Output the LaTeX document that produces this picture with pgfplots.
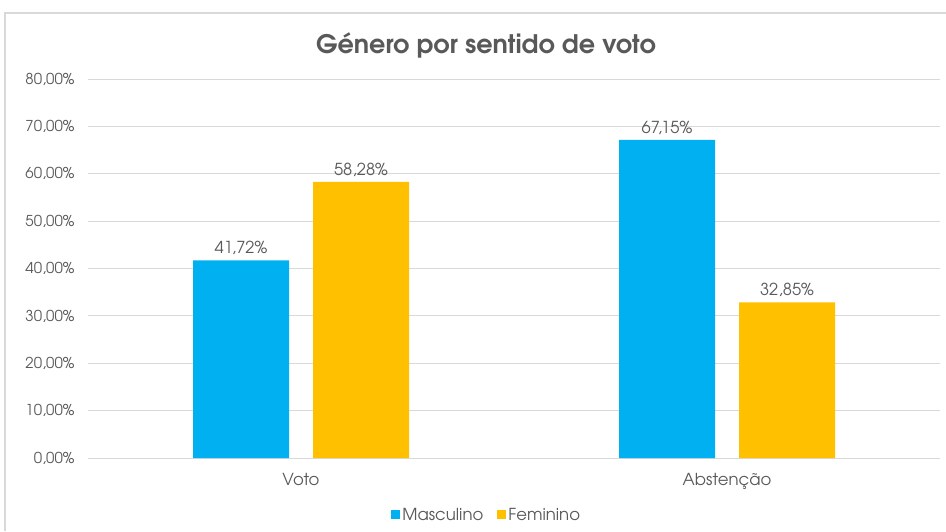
\documentclass[border=0pt]{standalone}
\usepackage{pgfplots}
\pgfplotsset{compat=1.18}
\usepackage{fontspec}
\setmainfont{TeX Gyre Adventor}
\definecolor{txt}{RGB}{89,89,89}
\definecolor{gridc}{RGB}{217,217,217}
\definecolor{masc}{RGB}{0,176,240}
\definecolor{fem}{RGB}{255,192,0}
\begin{document}
\begin{tikzpicture}[x=1pt,y=1pt]
\path[use as bounding box] (0,0) rectangle (946,531);
\draw[gridc,line width=1.2pt] (5,0) -- (5,518) -- (946,518);
\node[txt,font=\fontsize{25.5}{30}\selectfont\bfseries] at (486,486) {Género por sentido de voto};
\begin{axis}[
  at={(88pt,73pt)}, anchor=south west,
  scale only axis, width=852pt, height=379pt,
  xmin=-0.5, xmax=1.5, ymin=0, ymax=80,
  xtick={0,1}, xticklabels={Voto,Abstenção},
  ytick={0,10,...,80},
  yticklabel={\pgfmathprintnumber[fixed,fixed zerofill,precision=2,use comma]{\tick}\%},
  /pgf/number format/assume math mode=true,
  xmajorgrids=false, ymajorgrids=true, grid style={color=gridc,line width=0.9pt},
  axis line style={draw=none},
  major tick length=0pt, xtick style={draw=none}, ytick style={draw=none},
  tick label style={txt,font=\fontsize{16.5}{18}\selectfont},
  xticklabel style={yshift=-12pt},
  yticklabel style={xshift=-10pt,font=\fontsize{15}{17}\selectfont},
  ybar, bar width=96pt,
  nodes near coords={\pgfmathprintnumber[fixed,fixed zerofill,precision=2,use comma,assume math mode=true]{\pgfplotspointmeta}\%},
  every node near coord/.append style={txt,font=\fontsize{16.5}{18}\selectfont,yshift=2pt},
  legend style={draw=none,at={(axis description cs:0.468,-0.150)},anchor=center,
    legend columns=2,font=\fontsize{16.5}{18}\selectfont,text=txt,
    /tikz/every even column/.append style={column sep=12pt}},
  legend image code/.code={\fill[#1] (2pt,-4.5pt) rectangle (11pt,4.5pt);},
]
\addplot[fill=masc,draw=none,bar shift=-60pt] coordinates {(0,41.72) (1,67.15)};
\addplot[fill=fem,draw=none,bar shift=60pt] coordinates {(0,58.28) (1,32.85)};
\legend{Masculino,Feminino}
\end{axis}
\end{tikzpicture}
\end{document}
